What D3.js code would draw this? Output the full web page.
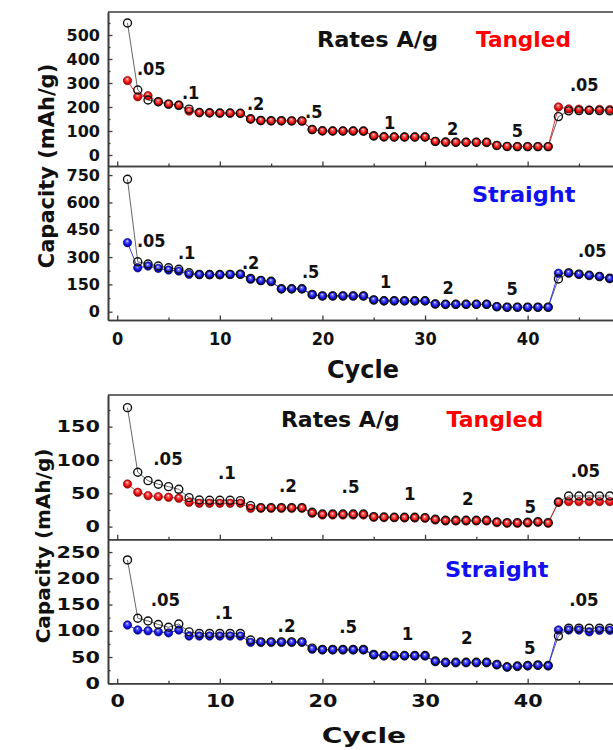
<!DOCTYPE html>
<html><head><meta charset="utf-8">
<script src="https://cdn.jsdelivr.net/npm/d3@7"></script>
<style>
html,body{margin:0;padding:0;background:#fff;overflow:hidden}
svg{display:block}
text{font-family:"DejaVu Sans",sans-serif;font-weight:bold}
</style>
</head><body>
<svg id="chart" width="613" height="750"></svg>
<script>
// ---------------- data ----------------
const cycles = d3.range(1, 49);
const rateLabels = [".05", ".1", ".2", ".5", "1", "2", "5", ".05"];
const xTickLabels = [0, 10, 20, 30, 40];

// top figure, tangled
const tangledTopCharge = [310,243,247,222,212,208,183,176,175,174,174,173,149,143,142,142,142,141,106,100,100,100,100,99,79,75,75,75,75,75,56,53,53,53,53,52,39,35,35,35,35,35,200,192,191,188,190,189];
const tangledTopDischarge = [550,271,229,222,212,207,191,177,176,175,175,174,151,144,143,143,142,142,106,101,100,100,100,100,80,76,75,75,75,75,57,54,53,53,53,53,40,36,35,35,35,35,160,184,185,186,185,184];
// top figure, straight
const straightTopCharge = [379,241,251,238,229,223,205,203,203,203,204,205,178,170,165,125,125,125,93,86,86,86,86,86,64,59,59,59,59,59,42,40,40,40,40,40,27,24,24,24,24,24,211,212,205,198,192,181];
const straightTopDischarge = [727,274,262,251,241,233,214,205,204,204,205,206,183,172,167,126,126,126,95,87,87,87,87,87,65,60,60,60,60,60,43,41,41,41,41,41,28,25,25,25,25,25,180,213,206,200,194,184];
// bottom figure, tangled
const tangledBottomCharge = [64,51.6,46.5,45,44,42.6,36.5,35,35,35,35,35,27.5,27.5,27.5,27.5,27.5,27.5,20,17.5,17.5,17.5,17.5,17.5,14,13.5,13.5,13,13,12.5,10,8.5,8.5,8.5,8.5,8.5,6,5,5,5.5,6.5,5,36.5,37.5,37.5,37.5,37.5,37.5];
const tangledBottomDischarge = [178.5,81.6,69,63.6,60,56,43.5,40,39.5,39.5,39.5,39,31.5,28.5,28.5,28.5,28.5,28.5,21.5,19,19,19,19,19,15,14.5,14,14,14,13.5,11,9.5,9.5,9.5,9.5,9.5,7,6,6,6.5,7.5,6,37,46,46,46,46,46];
// bottom figure, straight
const straightBottomCharge = [111,101.5,100,98,96,101.5,90,90,90,90,90,90,78,78,78,78,78,78,65,63.5,63.5,63.5,63.5,63.5,54,52,52,52,52,52,41,39,39,39,39,39,35,30.5,32,33,34,33,101.5,101.5,101.5,98,101,101];
const straightBottomDischarge = [235,124,118.7,112,106.7,113,98,95,95,95,95,95,82.5,79,79,79,79,79,67,64.5,64.5,64.5,64.5,64.5,55,53,53,53,53,53,42.5,40,40,40,40,40,36,31.5,33,34,35,34,90,105,105,105,105,105];

// y ticks per panel
const yTicksA = [0,100,200,300,400,500];
const yTicksB = [0,150,300,450,600,750];
const yTicksC = [0,50,100,150];
const yTicksD = [0,50,100,150,200,250];

// rate-label anchor positions (cycle, capacity) per panel
const rateCyclesA = [1.92,6.31,12.64,18.3,26.0,32.13,38.46,44.12];
const rateValuesA = [333,233,187,154,108,83,75,267];
const rateCyclesB = [1.92,5.92,12.15,18.0,25.6,31.7,37.95,44.9];
const rateValuesB = [353,289,233,183,128,97,92,302];
const rateCyclesC = [3.51,9.81,15.76,21.87,27.94,33.6,39.7,44.19];
const rateValuesC = [92.6,71,52.5,50,40,32.5,20,74];
const rateCyclesD = [3.26,9.52,15.63,21.64,27.72,33.5,39.64,44.05];
const rateValuesD = [147,122,98,95,82.5,74,55,147];

// ---------------- drawing ----------------
const svg = d3.select("#chart");
const defs = svg.append("defs");
function ballGrad(id, light, mid, dark) {
  const g = defs.append("radialGradient").attr("id", id)
    .attr("cx", "50%").attr("cy", "50%").attr("r", "55%").attr("fx", "45%").attr("fy", "28%");
  g.append("stop").attr("offset", "0%").attr("stop-color", "#ffffff");
  g.append("stop").attr("offset", "22%").attr("stop-color", light);
  g.append("stop").attr("offset", "60%").attr("stop-color", mid);
  g.append("stop").attr("offset", "100%").attr("stop-color", dark);
}
ballGrad("redBall", "#ff7070", "#f01010", "#8a0000");
ballGrad("blueBall", "#7070ff", "#1515f0", "#00007a");

const x = d3.scaleLinear().domain([-0.9, 51]).range([108, 640.5]);
const axisColor = "#3c3c3c";

function txt(g, px, py, str, o) {
  return g.append("text")
    .attr("transform", `translate(${px},${py}) rotate(${o.rotate || 0}) scale(${o.sx || 1},1)`)
    .attr("text-anchor", o.anchor || "start")
    .style("font-size", o.size + "px")
    .attr("fill", o.fill || "#111")
    .text(str);
}

function styleAxis(sel) {
  sel.select(".domain").attr("stroke", axisColor).attr("stroke-width", 1.6);
  sel.selectAll(".tick line").attr("stroke", axisColor).attr("stroke-width", 1.3);
}

function drawPanel(p) {
  const g = svg.append("g");
  const y = d3.scaleLinear().domain(p.yDomain).range([p.bottom, p.top]);
  // minor y ticks
  const yStep = p.yTicks[1] - p.yTicks[0];
  const minorY = p.yTicks.map(v => v + yStep / 2).filter(v => v < p.yDomain[1]);
  g.append("g").attr("transform", `translate(${x.range()[0]},0)`)
    .call(d3.axisLeft(y).tickValues(minorY).tickSizeInner(-2.5).tickSizeOuter(0).tickFormat(""))
    .call(styleAxis);
  // major y ticks
  const ya = g.append("g").attr("transform", `translate(${x.range()[0]},0)`)
    .call(d3.axisLeft(y).tickValues(p.yTicks).tickSizeInner(-4.5).tickSizeOuter(0).tickPadding(8))
    .call(styleAxis);
  ya.selectAll(".tick text").each(function () {
    const t = d3.select(this);
    const tx = +t.attr("x");
    t.attr("x", 0).attr("transform", `translate(${tx},0) scale(${p.ytSx},1)`)
     .style("font-size", p.ytSize + "px").style("font-family", "DejaVu Sans").style("font-weight", "bold").attr("fill", "#111");
  });
  // bottom x axis of panel
  const xMinor = [5, 15, 25, 35, 45];
  g.append("g").attr("transform", `translate(0,${p.bottom})`)
    .call(d3.axisBottom(x).tickValues(xMinor).tickSizeInner(-2.5).tickSizeOuter(0).tickFormat(""))
    .call(styleAxis);
  const xa = g.append("g").attr("transform", `translate(0,${p.bottom})`)
    .call(d3.axisBottom(x).tickValues(xTickLabels).tickSizeInner(-4.5).tickSizeOuter(0)
      .tickPadding(p.xtPad).tickFormat(p.showX ? d3.format("d") : ""))
    .call(styleAxis);
  if (p.showX) {
    xa.selectAll(".tick text").each(function () {
      const t = d3.select(this);
      const ty = +t.attr("y");
      t.attr("y", 0).attr("transform", `translate(0,${ty}) scale(${p.xtSx},1)`)
       .style("font-size", p.xtSize + "px").style("font-family", "DejaVu Sans").style("font-weight", "bold").attr("fill", "#111");
    });
  }
  // top border
  if (p.topBorder) {
    g.append("line").attr("x1", x.range()[0]).attr("x2", x.range()[1])
      .attr("y1", p.top).attr("y2", p.top).attr("stroke", axisColor).attr("stroke-width", 1.6);
  }
  // lines
  const line = d3.line().x((d, i) => x(cycles[i])).y(d => y(d));
  g.append("path").datum(p.discharge).attr("d", line).attr("fill", "none")
    .attr("stroke", "#555").attr("stroke-width", 0.9);
  g.append("path").datum(p.charge).attr("d", line).attr("fill", "none")
    .attr("stroke", p.lineColor).attr("stroke-width", 0.9);
  // filled balls
  g.append("g").selectAll("circle").data(p.charge).join("circle")
    .attr("cx", (d, i) => x(cycles[i])).attr("cy", d => y(d)).attr("r", 4.2)
    .attr("fill", `url(#${p.grad})`).attr("stroke", p.ballEdge).attr("stroke-width", 0.6);
  // open rings
  g.append("g").selectAll("circle").data(p.discharge).join("circle")
    .attr("cx", (d, i) => x(cycles[i])).attr("cy", d => y(d)).attr("r", 4)
    .attr("fill", "none").attr("stroke", "#111").attr("stroke-width", 1.4);
  // rate labels
  rateLabels.forEach((s, i) => {
    txt(g, x(p.rateCycles[i]), y(p.rateValues[i]), s, { size: p.rateSize, sx: p.rateSx });
  });
  return { g, y };
}

const A = drawPanel({ yDomain: [-45.8, 595.8], top: 12, bottom: 166, yTicks: yTicksA, ytSize: 16, ytSx: 1.0,
  charge: tangledTopCharge, discharge: tangledTopDischarge, grad: "redBall", ballEdge: "#7a0000", lineColor: "#e02020",
  rateCycles: rateCyclesA, rateValues: rateValuesA, rateSize: 18, rateSx: 0.9, topBorder: true, showX: false, xtPad: 12 });
const B = drawPanel({ yDomain: [-45.5, 800], top: 166, bottom: 320, yTicks: yTicksB, ytSize: 16, ytSx: 1.0,
  charge: straightTopCharge, discharge: straightTopDischarge, grad: "blueBall", ballEdge: "#00006a", lineColor: "#2020e0",
  rateCycles: rateCyclesB, rateValues: rateValuesB, rateSize: 18, rateSx: 0.9, topBorder: false, showX: true,
  xtPad: 12, xtSize: 18, xtSx: 0.9 });
const C = drawPanel({ yDomain: [-19, 197.5], top: 395, bottom: 539.3, yTicks: yTicksC, ytSize: 16, ytSx: 1.3,
  charge: tangledBottomCharge, discharge: tangledBottomDischarge, grad: "redBall", ballEdge: "#7a0000", lineColor: "#e02020",
  rateCycles: rateCyclesC, rateValues: rateValuesC, rateSize: 17, rateSx: 0.98, topBorder: true, showX: false, xtPad: 10 });
const D = drawPanel({ yDomain: [0, 274.3], top: 539.3, bottom: 683.3, yTicks: yTicksD, ytSize: 16, ytSx: 1.3,
  charge: straightBottomCharge, discharge: straightBottomDischarge, grad: "blueBall", ballEdge: "#00006a", lineColor: "#2020e0",
  rateCycles: rateCyclesD, rateValues: rateValuesD, rateSize: 17, rateSx: 0.98, topBorder: false, showX: true,
  xtPad: 10.5, xtSize: 18, xtSx: 1.15 });

// panel titles
txt(A.g, x(19.46), A.y(450), "Rates A/g", { size: 21, sx: 1.07 });
txt(A.g, x(34.96), A.y(450), "Tangled", { size: 21, sx: 1.03, fill: "#ff0000" });
txt(B.g, x(34.57), B.y(604), "Straight", { size: 22, sx: 1.02, fill: "#1010f0" });
txt(C.g, x(15.95), C.y(150), "Rates A/g", { size: 22, sx: 1.0 });
txt(C.g, x(32.1), C.y(150), "Tangled", { size: 22, sx: 1.0, fill: "#ff0000" });
txt(D.g, x(31.94), D.y(203), "Straight", { size: 22, sx: 1.02, fill: "#1010f0" });

// axis titles
txt(svg, 363, 378, "Cycle", { size: 24, anchor: "middle" });
txt(svg, 364, 743, "Cycle", { size: 22, sx: 1.28, anchor: "middle" });
txt(svg, 54, 166, "Capacity (mAh/g)", { size: 21, anchor: "middle", rotate: -90 });
txt(svg, 50, 546, "Capacity (mAh/g)", { size: 20, anchor: "middle", rotate: -90 });
</script>
</body></html>
